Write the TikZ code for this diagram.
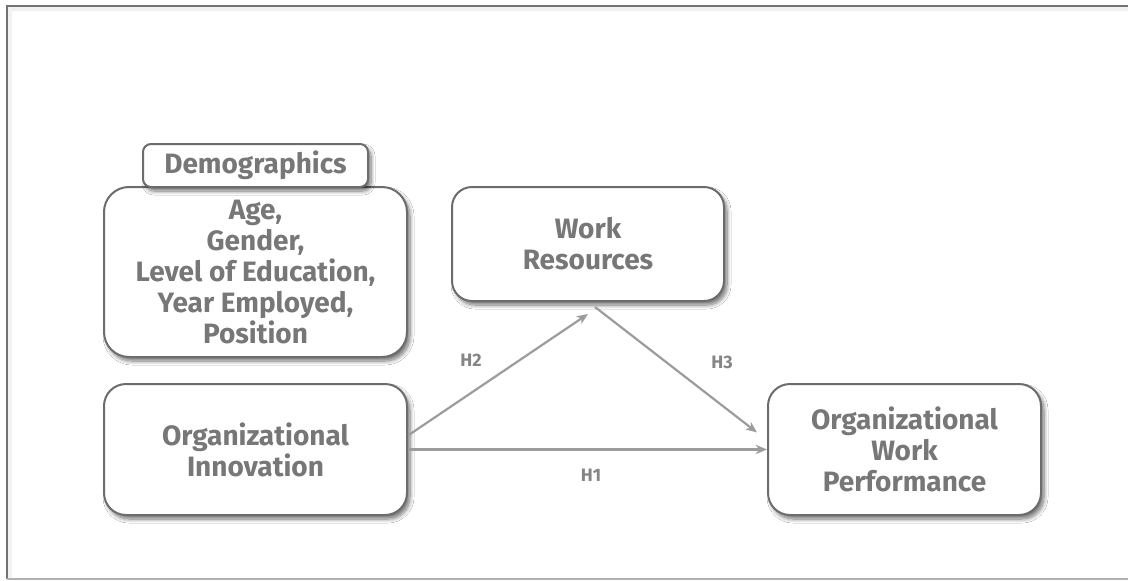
\documentclass[tikz,border=0pt]{standalone}
\usepackage{fontspec}
\setmainfont{Fira Sans}
\usetikzlibrary{shadows.blur,arrows.meta}
\definecolor{boxline}{HTML}{6C6C6C}
\definecolor{boxtext}{HTML}{777777}
\definecolor{arrowc}{HTML}{9C9C9C}
\definecolor{labelc}{HTML}{858585}
\begin{document}
\begin{tikzpicture}[x=1pt,y=-1pt,
  softshadow/.style={blur shadow={shadow xshift=3pt, shadow yshift=-4pt,
      shadow blur radius=4pt, shadow blur steps=8, shadow opacity=55}},
  box/.style={draw=boxline, line width=2pt, fill=white, inner sep=0pt,
      align=center, text=boxtext, font=\bfseries\fontsize{28}{31}\selectfont,
      softshadow},
  arr/.style={draw=arrowc, line width=2.2pt,
      -{Stealth[length=11pt,width=9pt,inset=3pt]}},
  hlabel/.style={text=labelc, font=\bfseries\fontsize{18}{20}\selectfont}]

\useasboundingbox (0,0) rectangle (1128,581);
\fill[white] (0,0) rectangle (1128,581);

% page frame with a faint inner shade
\fill[black!6] (8,7) rectangle (1128,11);
\fill[black!5] (8,7) rectangle (12,579);
\draw[black!55, line width=2pt] (7,579) -- (7,6) -- (1128,6);
\draw[black!30, line width=2pt] (7,579) -- (1128,579);

% boxes
\node[box, rounded corners=25pt, minimum width=303pt, minimum height=170pt]
  (demo) at (255.5,272) {Age,\\Gender,\\Level of Education,\\Year Employed,\\Position};
\node[box, rounded corners=8pt, minimum width=225pt, minimum height=43pt]
  (demotitle) at (255.5,165.5) {Demographics};
\node[box, rounded corners=20pt, minimum width=272pt, minimum height=114pt]
  (wr) at (588,244) {Work\\Resources};
\node[box, rounded corners=22pt, minimum width=303pt, minimum height=131pt]
  (oi) at (255.5,449.5) {Organizational\\Innovation};
\node[box, rounded corners=22pt, minimum width=273pt, minimum height=131pt]
  (owp) at (904.5,449.5) {Organizational\\Work\\Performance};

% hypothesised paths
\draw[arr] (oi.east) -- (owp.west);
\draw[arr] ([yshift=14pt]oi.east) -- ([yshift=-12pt]wr.south);
\draw[arr] ([xshift=7pt,yshift=-5pt]wr.south) -- ([xshift=-10pt,yshift=17pt]owp.west);

\node[hlabel] (h1) at (591,475) {H1};
\node[hlabel] (h2) at (471,360) {H2};
\node[hlabel] (h3) at (722,362) {H3};
\end{tikzpicture}
\end{document}
